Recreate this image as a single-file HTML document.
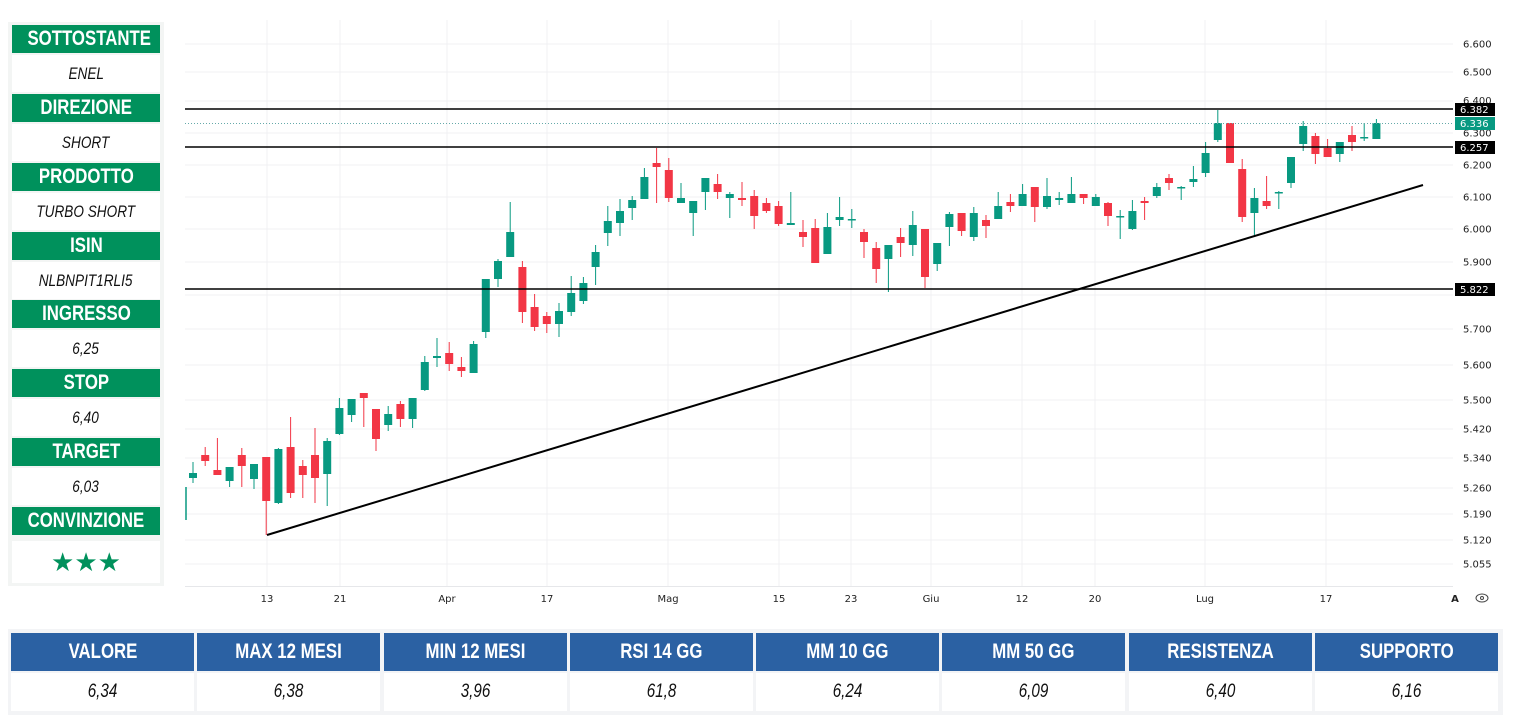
<!DOCTYPE html>
<html><head><meta charset="utf-8">
<style>
*{margin:0;padding:0;box-sizing:border-box}
body{width:1513px;height:717px;background:#fff;position:relative;overflow:hidden;font-family:"Liberation Sans",sans-serif}
.panel{position:absolute;left:8px;top:22px;width:156px;height:564px;background:#f3f5f4}
.h,.v,.th,.td{white-space:nowrap}
.h span,.v span,.th span,.td span{display:inline-block;transform:scaleX(0.8);transform-origin:center}
.h{position:absolute;left:12px;width:148px;height:28px;background:#00915c;color:#fff;font-weight:bold;font-size:21px;text-align:center;line-height:28px}
.v{position:absolute;left:12px;width:148px;height:37px;background:#fff;color:#111;font-style:italic;font-size:17px;text-align:center;line-height:37px}
.tbl{position:absolute;left:8px;top:629px;width:1495px;height:86px;background:#f3f4f6}
.th{position:absolute;top:633px;width:183px;height:38px;background:#2b61a3;color:#fff;font-weight:bold;font-size:21px;text-align:center;line-height:38px}
.td{position:absolute;top:673px;width:183px;height:38px;background:#fff;color:#111;font-style:italic;font-size:19px;text-align:center;line-height:38px}
svg{position:absolute;left:0;top:0}
</style></head><body>
<div class="panel"></div>
<div class="h" style="top:25px"><span>SOTTOSTANTE</span></div><div class="v" style="top:55px"><span>ENEL</span></div>
<div class="h" style="top:94px"><span>DIREZIONE</span></div><div class="v" style="top:124px"><span>SHORT</span></div>
<div class="h" style="top:163px"><span>PRODOTTO</span></div><div class="v" style="top:193px"><span>TURBO SHORT</span></div>
<div class="h" style="top:232px"><span>ISIN</span></div><div class="v" style="top:262px"><span>NLBNPIT1RLI5</span></div>
<div class="h" style="top:300px"><span>INGRESSO</span></div><div class="v" style="top:330px"><span>6,25</span></div>
<div class="h" style="top:369px"><span>STOP</span></div><div class="v" style="top:399px"><span>6,40</span></div>
<div class="h" style="top:438px"><span>TARGET</span></div><div class="v" style="top:468px"><span>6,03</span></div>
<div class="h" style="top:507px"><span>CONVINZIONE</span></div><div class="v" style="top:541px;height:42px;line-height:42px;color:#00915c;font-style:normal;font-size:26px">★★★</div>

<div class="tbl"></div>
<div class="th" style="left:11px"><span>VALORE</span></div><div class="td" style="left:11px"><span>6,34</span></div>
<div class="th" style="left:197px"><span>MAX 12 MESI</span></div><div class="td" style="left:197px"><span>6,38</span></div>
<div class="th" style="left:384px"><span>MIN 12 MESI</span></div><div class="td" style="left:384px"><span>3,96</span></div>
<div class="th" style="left:570px"><span>RSI 14 GG</span></div><div class="td" style="left:570px"><span>61,8</span></div>
<div class="th" style="left:756px"><span>MM 10 GG</span></div><div class="td" style="left:756px"><span>6,24</span></div>
<div class="th" style="left:942px"><span>MM 50 GG</span></div><div class="td" style="left:942px"><span>6,09</span></div>
<div class="th" style="left:1129px"><span>RESISTENZA</span></div><div class="td" style="left:1129px"><span>6,40</span></div>
<div class="th" style="left:1315px"><span>SUPPORTO</span></div><div class="td" style="left:1315px"><span>6,16</span></div>

<svg id="c" width="1513" height="620" xmlns="http://www.w3.org/2000/svg"></svg>
<script>
var s='';
var ticks=[["6.600",44],["6.500",72],["6.400",101],["6.300",133],["6.200",165],["6.100",197],["6.000",229],["5.900",262],["5.800",295],["5.700",329],["5.600",365],["5.500",400],["5.420",429],["5.340",458],["5.260",488],["5.190",514],["5.120",540],["5.055",564]];
ticks.forEach(function(t){s+='<line x1="185" x2="1453" y1="'+t[1]+'" y2="'+t[1]+'" stroke="#f0f1f3" stroke-width="1"/>';
 if(t[0]!="5.800"&&t[0]!="6.400")s+='<text x="1463" y="'+(t[1]+3.5)+'" font-size="10" fill="#222" font-family="DejaVu Sans,sans-serif">'+t[0]+'</text>';});
s+='<text x="1463" y="104" font-size="10" fill="#222" font-family="DejaVu Sans,sans-serif">6.400</text>';
var dates=[["13",267],["21",340],["Apr",447],["17",547],["Mag",668],["15",779],["23",851],["Giu",931],["12",1022],["20",1095],["Lug",1205],["17",1326]];
dates.forEach(function(d){s+='<line x1="'+d[1]+'" x2="'+d[1]+'" y1="20" y2="586" stroke="#f0f1f3"/>';
 s+='<text x="'+d[1]+'" y="602" font-size="10" text-anchor="middle" fill="#222" font-family="DejaVu Sans,sans-serif">'+d[0]+'</text>';});
s+='<line x1="185" x2="1453" y1="586.5" y2="586.5" stroke="#e6e7ea"/>';
s+='<text x="1455" y="602" font-size="10" text-anchor="middle" font-weight="bold" fill="#222" font-family="DejaVu Sans,sans-serif">A</text>';
s+='<ellipse cx="1482" cy="598" rx="6" ry="4" fill="none" stroke="#444" stroke-width="1"/><circle cx="1482" cy="598" r="1.5" fill="none" stroke="#444"/>';
var C=[[473,478,462,483,'g'],[455,461,447,466,'r'],[470,475,438,475,'r'],[467,481,467,487,'g'],[455,466,448,487,'r'],[464,479,464,489,'g'],[457,501,457,535,'r'],[449,503,448,504,'g'],[447,493,417,498,'r'],[466,475,460,498,'r'],[455,478,428,503,'r'],[441,474,438,506,'g'],[408,434,398,435,'g'],[399,415,399,422,'g'],[393,398,393,427,'r'],[409,439,409,451,'r'],[414,425,406,431,'g'],[404,419,401,427,'r'],[398,419,398,428,'g'],[362,390,356,391,'g'],[356,358,338,367,'g'],[353,364,342,371,'r'],[367,371,357,377,'r'],[344,373,341,373,'g'],[279,332,279,338,'g'],[261,279,259,287,'g'],[232,257,202,257,'g'],[267,312,261,323,'r'],[307,327,294,331,'r'],[316,324,312,333,'r'],[311,324,303,337,'g'],[293,312,276,316,'g'],[283,301,277,304,'g'],[252,267,245,285,'g'],
[221,233,206,246,'g'],[211,223,199,236,'g'],[200,208,196,220,'g'],[177,199,168,199,'g'],[163,167,148,203,'r'],[170,198,158,202,'r'],[198,203,183,203,'g'],[201,213,201,236,'g'],[178,192,178,210,'g'],[184,192,174,199,'r'],[194,198,192,218,'g'],[198,200,182,206,'r'],[196,216,190,229,'r'],[203,211,198,213,'r'],[206,224,201,226,'r'],[223,225,192,225,'g'],[232,237,220,247,'r'],[228,263,219,263,'r'],[227,254,213,254,'g'],[217,220,197,226,'g'],[219,220,209,228,'g'],[232,242,229,258,'r'],[248,269,242,283,'r'],[245,259,245,292,'g'],[237,243,228,257,'r'],[225,245,211,256,'g'],[229,277,229,288,'r'],[243,264,243,271,'g'],[214,227,212,246,'g'],[213,231,213,236,'r'],[213,237,207,241,'g'],[220,226,215,238,'r'],[206,219,192,219,'g'],[202,206,194,212,'r'],[194,206,184,206,'g'],[187,207,187,222,'r'],[196,207,178,209,'g'],[198,200,192,205,'g'],[194,203,177,203,'g'],[194,198,194,204,'r'],[197,206,194,206,'g'],[203,216,202,226,'r'],[216,217,210,239,'g'],[211,229,200,230,'g'],[201,203,197,220,'r'],[187,196,183,198,'g'],[178,183,174,190,'r'],[187,188,186,200,'g'],[179,182,166,187,'g'],
[153,173,142,177,'g'],[123,140,110,142,'g'],[123,163,123,163,'r'],[169,217,159,222,'r'],[198,213,188,236,'g'],[201,206,176,209,'r'],[192,193,191,209,'g'],[157,183,157,188,'g'],[126,144,121,151,'g'],[136,154,133,164,'r'],[148,157,139,157,'r'],[142,154,142,162,'g'],[135,142,126,151,'r'],[137,138,123,141,'g'],[123,139,119,139,'g']];
s+='<line x1="186" x2="186" y1="487" y2="520" stroke="#089981" stroke-width="1.5"/>';
C.forEach(function(c,k){var x=193+k*12.2;var col=c[4]=='g'?'#089981':'#f23645';
 s+='<line x1="'+x+'" x2="'+x+'" y1="'+c[2]+'" y2="'+c[3]+'" stroke="'+col+'" stroke-width="1"/>';
 var h=Math.max(c[1]-c[0],1.5);s+='<rect x="'+(x-4)+'" y="'+c[0]+'" width="8" height="'+h+'" fill="'+col+'"/>';});
s+='<line x1="185" x2="1453" y1="109" y2="109" stroke="#000" stroke-width="1.5"/>';
s+='<line x1="185" x2="1453" y1="123.5" y2="123.5" stroke="#6aa" stroke-width="1" stroke-dasharray="1,2"/>';
s+='<line x1="185" x2="1453" y1="147" y2="147" stroke="#000" stroke-width="1.5"/>';
s+='<line x1="185" x2="1453" y1="289" y2="289" stroke="#000" stroke-width="1.5"/>';
s+='<line x1="267" y1="535" x2="1423" y2="185" stroke="#000" stroke-width="2"/>';
function lab(y,t,bg){s+='<rect x="1455" y="'+(y-6)+'" width="40" height="13" fill="'+bg+'"/><text x="1460" y="'+(y+4)+'" font-size="10" fill="#fff" font-family="DejaVu Sans,sans-serif">'+t+'</text>';}
lab(109,'6.382','#000');lab(123,'6.336','#089981');lab(147,'6.257','#000');lab(289,'5.822','#000');
document.getElementById('c').innerHTML=s;
</script>
</body></html>
